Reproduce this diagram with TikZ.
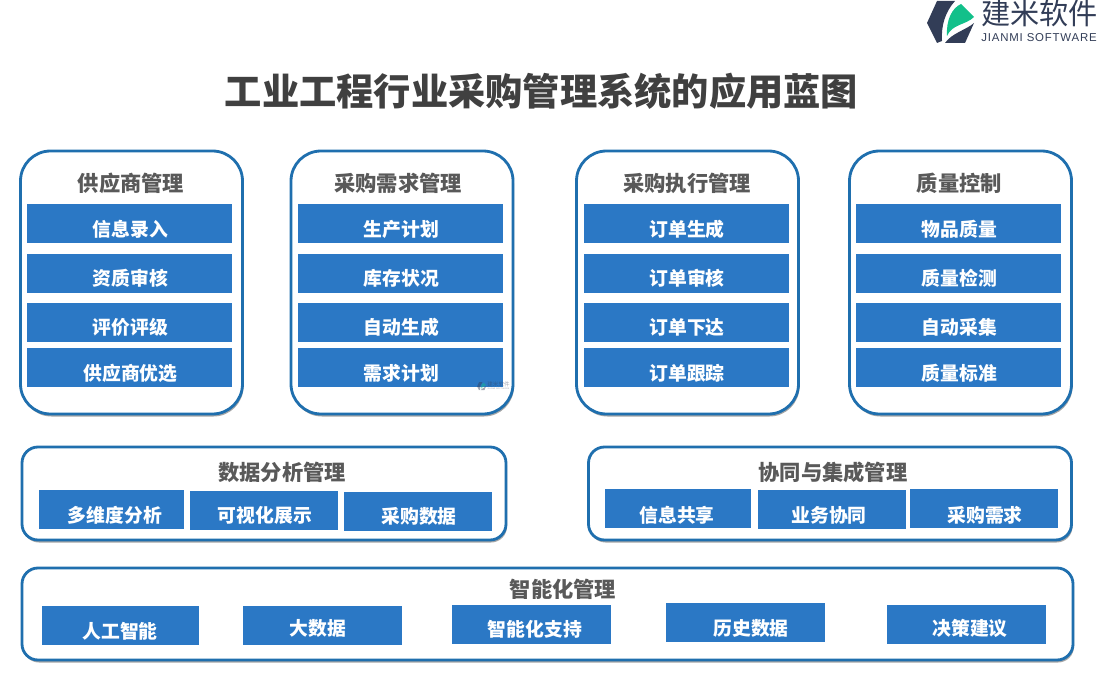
\documentclass[tikz,border=0pt]{standalone}
\usepackage{fontspec}
\usepackage{xcolor}
\usepackage{tikz}
\usetikzlibrary{shadows}
\setmainfont{Noto Sans CJK SC}
\newfontfamily\latinfont[LetterSpace=7]{Liberation Sans}
\definecolor{ink}{HTML}{404040}
\definecolor{grey}{HTML}{595959}
\definecolor{edge}{HTML}{1F6FAE}
\definecolor{fillb}{HTML}{2B78C5}
\definecolor{navy}{HTML}{323D57}
\definecolor{leaf}{HTML}{12C08A}
\tikzset{
  panel/.style={draw=edge, fill=white, line width=1.6pt, rounded corners=6mm,
                minimum width=44.4mm, minimum height=52.6mm,
                drop shadow={shadow xshift=0.2mm, shadow yshift=-0.5mm, opacity=0.35, fill=black}},
  wide/.style={panel, rounded corners=3.2mm, minimum height=18.6mm},
  item/.style={fill=fillb, inner sep=0pt, minimum height=7.8mm},
  itemtxt/.style={text=white, font=\fontsize{10.7}{12}\selectfont\bfseries, inner sep=0pt, xshift=0.2mm},
  head/.style={text=grey, font=\fontsize{12.1}{14}\selectfont\bfseries, inner sep=0pt, xshift=0.2mm},
  logo/.pic={
    \fill[navy] (937,1) -- (955,1) .. controls (945,12) and (941,26) .. (942,41) -- (937,43) -- (927,23) -- cycle;
    \fill[navy] (945,43) -- (965,43) -- (974,23) .. controls (966,30) and (952,33) .. cycle;
    \fill[leaf] (947,36) .. controls (946,20) and (952,8) .. (961,4) -- (974,17) .. controls (966,25) and (952,24) .. cycle;
    \node[text=navy, font=\fontsize{16.6}{18}\selectfont, inner sep=0pt, transform shape] (logotxt) at (1039.5,13) {建米软件};
    \node[text=navy, font=\latinfont\fontsize{6.5}{8}\selectfont, inner sep=0pt, transform shape] (logosub) at (1039,38) {JIANMI SOFTWARE};
  },
}
\begin{document}
\begin{tikzpicture}[x=0.2mm,y=-0.2mm]
\useasboundingbox (0,0) rectangle (1100,700);
\pic at (0,0) {logo};

\node[text=ink, font=\fontsize{21.2}{24}\selectfont\bfseries, inner sep=0pt] (title) at (541.5,91) {工业工程行业采购管理系统的应用蓝图};

\foreach \n/\px/\cx/\hx/\ttl/\a/\b/\c/\d in {
  sup/131.5/129.5/130/供应商管理/信息录入/资质审核/评价评级/供应商优选,
  dem/402/400.5/397/采购需求管理/生产计划/库存状况/自动生成/需求计划,
  exe/687.5/686/686/采购执行管理/订单生成/订单审核/订单下达/订单跟踪,
  qua/960.5/958.5/958.5/质量控制/物品质量/质量检测/自动采集/质量标准}{
  \node[panel] (\n) at (\px,282.5) {};
  \node[head] (\n-head) at (\hx,183) {\ttl};
  \node[item, minimum width=41mm] (\n-1) at (\cx,223.5) {};
  \node[item, minimum width=41mm] (\n-2) at (\cx,273.5) {};
  \node[item, minimum width=41mm] (\n-3) at (\cx,322.5) {};
  \node[item, minimum width=41mm] (\n-4) at (\cx,367.5) {};
  \node[itemtxt] (\n-1-txt) at (\cx,229) {\a};
  \node[itemtxt] (\n-2-txt) at (\cx,278) {\b};
  \node[itemtxt] (\n-3-txt) at (\cx,327) {\c};
  \node[itemtxt] (\n-4-txt) at (\cx,373) {\d};
}

\node[wide, minimum width=96.8mm] (data) at (264,493.5) {};
\node[head] (data-head) at (281,472) {数据分析管理};
\node[item, minimum width=29mm] (data-1) at (111.5,509.5) {};
\node[item, minimum width=29.6mm] (data-2) at (264,510.5) {};
\node[item, minimum width=29.6mm] (data-3) at (418,511.5) {};
\node[itemtxt] (data-1-txt) at (114,515) {多维度分析};
\node[itemtxt] (data-2-txt) at (264,515) {可视化展示};
\node[itemtxt] (data-3-txt) at (418,516) {采购数据};

\node[wide, minimum width=96.6mm] (coop) at (830,493.5) {};
\node[head] (coop-head) at (832,472) {协同与集成管理};
\node[item, minimum width=29.2mm] (coop-1) at (678,508.5) {};
\node[item, minimum width=29.6mm] (coop-2) at (832,509.5) {};
\node[item, minimum width=29.6mm] (coop-3) at (984,508) {};
\node[itemtxt] (coop-1-txt) at (676,515) {信息共享};
\node[itemtxt] (coop-2-txt) at (828,515) {业务协同};
\node[itemtxt] (coop-3-txt) at (984,515) {采购需求};

\node[wide, minimum width=210.2mm, minimum height=18.4mm] (smart) at (547.5,614) {};
\node[head] (smart-head) at (562,589) {智能化管理};
\foreach \n/\cx/\cy/\bw/\tx/\ty/\ttl in {
  1/120.5/625/31.4mm/119/631/人工智能,
  2/322.5/625/31.8mm/317/628/大数据,
  3/531.5/624.5/31.8mm/534/629/智能化支持,
  4/745.5/622.5/31.8mm/750/628/历史数据,
  5/966.5/624.5/31.8mm/969/628/决策建议}{
  \node[item, minimum width=\bw] (smart-\n) at (\cx,\cy) {};
  \node[itemtxt] (smart-\n-txt) at (\tx,\ty) {\ttl};
}

\pic[scale=0.19, opacity=0.45] at (301,382) {logo};
\end{tikzpicture}
\end{document}
